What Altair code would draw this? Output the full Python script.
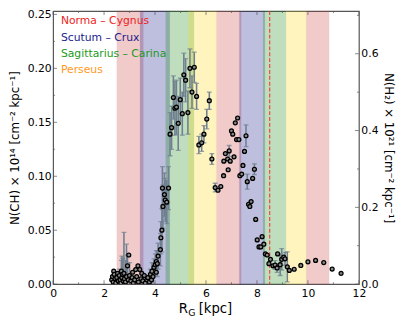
import altair as alt
import pandas as pd

# ---------------- data ----------------
R = [2.30, 2.33, 2.36, 2.38, 2.40, 2.43, 2.46, 2.50, 2.53, 2.56, 2.60, 2.63, 2.66, 2.68, 2.70,
     2.73, 2.76, 2.78, 2.80, 2.84, 2.88, 2.92, 2.95, 2.97, 3.00, 3.05, 3.10, 3.12, 3.15, 3.20,
     3.24, 3.28, 3.33, 3.35, 3.40, 3.45, 3.48, 3.52, 3.58, 3.62, 3.68, 3.72, 3.78, 3.82, 3.86,
     3.88, 3.92, 3.96, 4.01, 4.05, 4.05, 4.09, 4.12, 4.21, 4.23, 4.27, 4.29, 4.31, 4.37, 4.40,
     4.46, 4.53, 4.59, 4.65, 4.72, 4.78, 4.84, 4.91, 4.99, 5.07, 5.13, 5.20, 5.29, 5.37, 5.45,
     5.54, 5.63, 5.72, 5.83, 5.92, 6.03, 6.13, 6.23, 6.36, 6.47, 6.58, 6.69, 6.70, 6.76, 6.85,
     6.87, 6.91, 6.95, 7.00, 7.05, 7.10, 7.15, 7.20, 7.24, 7.29, 7.33, 7.40, 7.45, 7.51, 7.57,
     7.62, 7.67, 7.72, 7.77, 7.83, 7.90, 7.95, 8.01, 8.08, 8.15, 8.20, 8.27, 8.33, 8.40, 8.47,
     8.53, 8.63, 8.71, 8.79, 8.81, 8.91, 8.97, 9.05, 9.10, 9.19, 9.27, 9.46, 9.72, 10.00, 10.30,
     10.62, 10.95, 11.30]
N = [0.004, 0.007, 0.002, 0.012, 0.009, 0.005, 0.001, 0.006, 0.010, 0.003, 0.008, 0.004, 0.001, 0.012, 0.006,
     0.009, 0.003, 0.010, 0.005, 0.002, 0.007, 0.017, 0.004, 0.027, 0.008, 0.003, 0.006, 0.011, 0.001, 0.004,
     0.0135, 0.007, 0.017, 0.002, 0.0136, 0.005, 0.010, 0.003, 0.008, 0.001, 0.004, 0.006, 0.002, 0.009, 0.004,
     0.012, 0.007, 0.0155, 0.018, 0.021, 0.011, 0.019, 0.026, 0.032, 0.043, 0.050, 0.089, 0.072, 0.083, 0.078,
     0.076, 0.089, 0.139, 0.145, 0.173, 0.163, 0.164, 0.149, 0.171, 0.158, 0.194, 0.189, 0.159, 0.200, 0.178,
     0.201, 0.174, 0.129, 0.131, 0.139, 0.153, 0.170, 0.116, 0.0895, 0.087, 0.0905, 0.1005, 0.114, 0.121, 0.116,
     0.106, 0.1235, 0.114, 0.142, 0.139, 0.118, 0.1495, 0.134, 0.154, 0.134, 0.1005, 0.102, 0.110, 0.123, 0.1375,
     0.095, 0.074, 0.072, 0.0765, 0.098, 0.1065, 0.060, 0.041, 0.0345, 0.0345, 0.044, 0.037, 0.028, 0.027, 0.019,
     0.023, 0.017, 0.0177, 0.015, 0.028, 0.018, 0.023, 0.025, 0.0235, 0.016, 0.0127, 0.0138, 0.0173, 0.0207, 0.022,
     0.020, 0.014, 0.010]
ERR = [0, 0, 0, 0, 0, 0, 0, 0, 0, 0, 0.006, 0, 0, 0.010, 0.020,
       0.015, 0, 0.038, 0, 0.020, 0.030, 0.010, 0, 0, 0.012, 0, 0, 0, 0, 0,
       0, 0, 0, 0, 0, 0, 0, 0, 0, 0, 0, 0, 0, 0.005, 0,
       0.008, 0.006, 0.008, 0.010, 0.010, 0, 0.012, 0.012, 0.015, 0.015, 0.020, 0.020, 0.020, 0.020, 0.020,
       0.020, 0.020, 0.020, 0.020, 0.020, 0.025, 0.025, 0.025, 0.020, 0.020, 0.020, 0.020, 0.020, 0.018, 0.015,
       0.014, 0.012, 0.008, 0.008, 0.008, 0.009, 0.008, 0.005, 0.004, 0, 0, 0, 0, 0, 0,
       0, 0.005, 0, 0, 0, 0, 0, 0, 0, 0, 0, 0, 0, 0, 0.010,
       0.007, 0, 0, 0, 0, 0.005, 0, 0, 0, 0, 0, 0, 0, 0, 0,
       0, 0, 0.004, 0.004, 0, 0.010, 0.010, 0, 0.006, 0.014, 0, 0, 0, 0, 0,
       0, 0, 0]

ARMS = ["Norma – Cygnus", "Scutum – Crux", "Sagittarius – Carina", "Perseus"]
ARM_TEXT_COLORS = ["#ee2222", "#1c1c8c", "#229922", "#ff9922"]
ARM_BAND_COLORS = ["#c83232", "#000080", "#008000", "#ffd700"]
BAND_ARM = ARMS[0:1] * 3 + ARMS[1:2] * 2 + ARMS[2:3] * 2 + ARMS[3:4] * 2
BAND_START = [2.50, 6.41, 9.93, 3.41, 7.31, 4.42, 8.24, 5.30, 9.14]
BAND_END = [3.54, 7.38, 10.83, 4.58, 8.31, 5.53, 9.14, 6.41, 9.93]
SUN_R = [8.5]

X_MAJOR = [0, 2, 4, 6, 8, 10, 12]
X_MINOR = [1, 3, 5, 7, 9, 11]
YL_MAJOR = [0.0, 0.05, 0.10, 0.15, 0.20, 0.25]
YL_MINOR = [0.025, 0.075, 0.125, 0.175, 0.225]
YR_MAJOR = [0.0, 0.2, 0.4, 0.6]
YR_MINOR = [0.1, 0.3, 0.5, 0.7]

X_DOMAIN = [0, 12]
YL_DOMAIN = [0, 0.253]
YR_DOMAIN = [0, 0.711]

W, H = 312, 278.5
FONT = "DejaVu Sans"
FRAME = "#555555"

df = pd.DataFrame({"r": R, "n": N, "err": ERR})
bands_df = pd.DataFrame({"arm": BAND_ARM, "start": BAND_START, "end": BAND_END})

xs = alt.Scale(domain=X_DOMAIN, nice=False, zero=False)
yls = alt.Scale(domain=YL_DOMAIN, nice=False)
yrs = alt.Scale(domain=YR_DOMAIN, nice=False)

XAX = alt.Axis(values=X_MAJOR, format="d", tickSize=0, domain=False, grid=False,
               labelPadding=4, labelFlush=False, title=None)
YLAX = alt.Axis(values=YL_MAJOR, format=".2f", tickSize=0, domain=False, grid=False,
                labelPadding=2, labelFlush=False,
                title="N(CH)  × 10¹⁴  [cm⁻² kpc⁻¹]", titlePadding=6)
YRAX = alt.Axis(orient="right", values=YR_MAJOR, format=".1f", tickSize=0, domain=False, grid=False,
                labelPadding=2, labelFlush=False,
                title="N(H₂)  × 10²¹  [cm⁻² kpc⁻¹]", titlePadding=4)

bands = alt.Chart(bands_df).mark_rect(opacity=0.25, strokeWidth=0.8, strokeOpacity=0.25).encode(
    x=alt.X("start:Q", scale=xs, axis=XAX),
    x2="end:Q",
    color=alt.Color("arm:N", scale=alt.Scale(domain=ARMS, range=ARM_BAND_COLORS), legend=None),
    stroke=alt.Stroke("arm:N", scale=alt.Scale(domain=ARMS, range=ARM_BAND_COLORS), legend=None),
)

sun = alt.Chart(pd.DataFrame({"r": SUN_R})).mark_rule(
    color="#ff3333", strokeDash=[4, 2], strokeWidth=1.1
).encode(x=alt.X("r:Q", scale=xs, axis=XAX), stroke=alt.value("#ff3333"))

errbase = alt.Chart(df).transform_filter("datum.err > 0").transform_calculate(
    lo="datum.n - datum.err", hi="datum.n + datum.err")
errbars = errbase.mark_rule(color="#708090", strokeWidth=1.6, clip=True).encode(
    x=alt.X("r:Q", scale=xs, axis=XAX),
    y=alt.Y("lo:Q", scale=yls, axis=YLAX), y2="hi:Q")
caplo = errbase.mark_tick(orient="horizontal", size=5, thickness=1.3, color="#708090", clip=True).encode(
    x=alt.X("r:Q", scale=xs, axis=XAX), y=alt.Y("lo:Q", scale=yls, axis=YLAX))
caphi = errbase.mark_tick(orient="horizontal", size=5, thickness=1.3, color="#708090", clip=True).encode(
    x=alt.X("r:Q", scale=xs, axis=XAX), y=alt.Y("hi:Q", scale=yls, axis=YLAX))

points = alt.Chart(df).mark_circle(size=16, fill="#8a8a8a", fillOpacity=1, stroke="black",
                                   strokeWidth=1.3, clip=True).encode(
    x=alt.X("r:Q", scale=xs, axis=XAX),
    y=alt.Y("n:Q", scale=yls, axis=YLAX),
)


def xticks(vals, length):
    d = pd.DataFrame({"v": vals})
    bot = alt.Chart(d).mark_tick(orient="vertical", size=length, thickness=1, color=FRAME).encode(
        x=alt.X("v:Q", scale=xs, axis=XAX), y=alt.value(H - length / 2))
    top = alt.Chart(d).mark_tick(orient="vertical", size=length, thickness=1, color=FRAME).encode(
        x=alt.X("v:Q", scale=xs, axis=XAX), y=alt.value(length / 2))
    return [bot, top]


def ylticks(vals, length):
    d = pd.DataFrame({"v": vals})
    return [alt.Chart(d).mark_tick(orient="horizontal", size=length, thickness=1, color=FRAME).encode(
        y=alt.Y("v:Q", scale=yls, axis=YLAX), x=alt.value(length / 2))]


legend_texts = []
for i, (name, col) in enumerate(zip(ARMS, ARM_TEXT_COLORS)):
    legend_texts.append(
        alt.Chart(pd.DataFrame({"t": [name]})).mark_text(
            align="left", baseline="middle", font=FONT, fontSize=11, color=col
        ).encode(text="t:N", x=alt.value(8), y=alt.value(10.3 + i * 16.7))
    )

# x-axis title with subscript
xt = []
for txt, xpos, ypos, fs in [("R", 137.5, 308, 13.5), ("G", 137.8, 311, 9.5), ("[kpc]", 148.5, 308, 13.5)]:
    xt.append(alt.Chart(pd.DataFrame({"t": [txt]})).mark_text(
        align=("right" if txt == "R" else "left"), baseline="alphabetic", font=FONT, fontSize=fs,
        color="black").encode(text="t:N", x=alt.value(xpos), y=alt.value(ypos)))

main = alt.layer(
    bands, errbars, caplo, caphi, sun, points,
    *xticks(X_MAJOR, 4), *xticks(X_MINOR, 2), *ylticks(YL_MAJOR, 4), *ylticks(YL_MINOR, 2),
    *legend_texts, *xt,
)

rmaj = alt.Chart(pd.DataFrame({"v": YR_MAJOR})).mark_tick(orient="horizontal", size=4, thickness=1,
                                                          color=FRAME).encode(
    y=alt.Y("v:Q", scale=yrs, axis=YRAX), x=alt.value(W - 2))
rmin = alt.Chart(pd.DataFrame({"v": YR_MINOR})).mark_tick(orient="horizontal", size=2, thickness=1,
                                                          color=FRAME).encode(
    y=alt.Y("v:Q", scale=yrs, axis=YRAX), x=alt.value(W - 1))
right = alt.layer(rmaj, rmin)

chart = alt.layer(main, right).resolve_scale(y="independent").properties(
    width=W, height=H,
    autosize=alt.AutoSizeParams(type="none"),
    padding={"left": 46, "top": 0, "right": 46, "bottom": 40},
).configure_view(stroke=FRAME, strokeWidth=1.2).configure_axis(
    labelFont=FONT, labelFontSize=11, labelColor="black",
    titleFont=FONT, titleFontSize=12, titleFontWeight="normal", titleColor="black",
)

chart.save("out.html", embed_options={"renderer": "svg", "actions": False})
